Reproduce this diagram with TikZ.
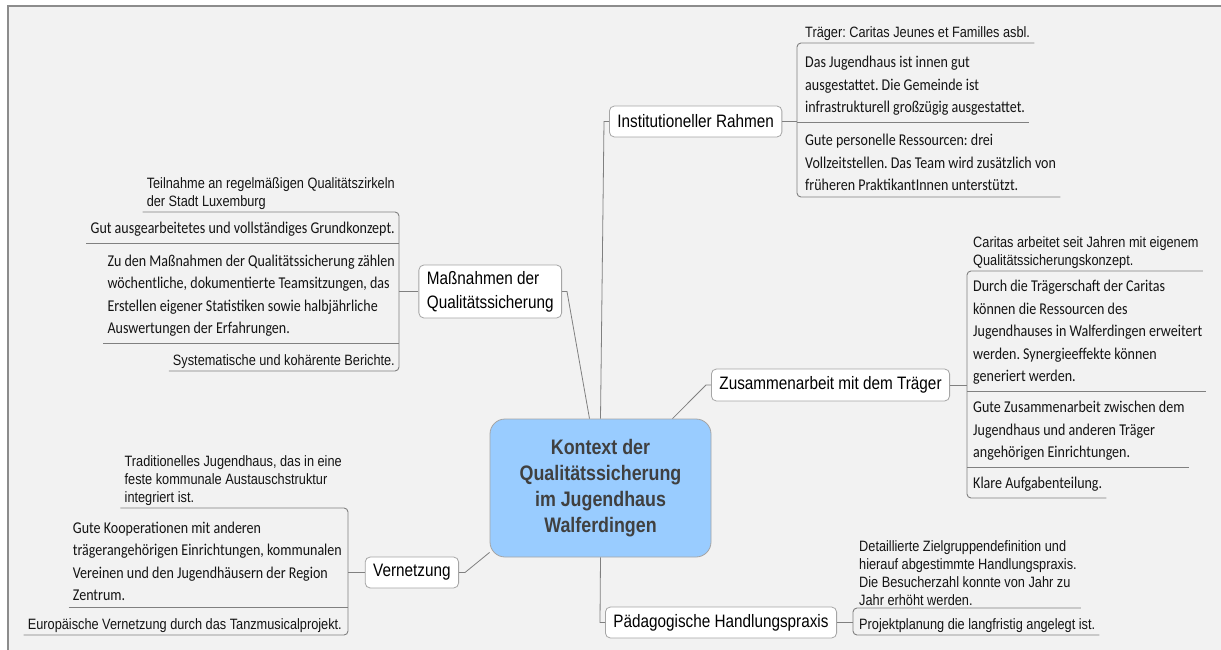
\documentclass[tikz,border=0pt]{standalone}
\usepackage{fontspec}
\newfontfamily\arialn[FakeStretch=0.85]{Liberation Sans}
\newfontfamily\calibn[FakeStretch=0.85]{Carlito}
\frenchspacing
\definecolor{bgGray}{RGB}{242, 242, 242}
\definecolor{frameCol}{RGB}{140, 140, 140}
\definecolor{lineCol}{RGB}{128, 128, 128}
\definecolor{boxLine}{RGB}{165, 165, 165}
\definecolor{ctxFill}{RGB}{153, 204, 255}
\definecolor{ctxText}{RGB}{64, 64, 64}
\definecolor{txtCol}{RGB}{20, 20, 20}

\begin{document}
\begin{tikzpicture}[
    x=1pt, y=-1pt,
    link/.style={lineCol, line width=0.8pt},
    bracket/.style={lineCol, line width=0.9pt, rounded corners=4pt},
    topic/.style={draw=boxLine, fill=white, line width=0.8pt, rounded corners=5pt,
        font=\arialn\fontsize{18}{24}\selectfont, text=black, align=left,
        inner xsep=8pt, inner ysep=4pt, minimum height=31pt},
    noteA/.style={font=\arialn\fontsize{15}{18}\selectfont, text=txtCol,
        align=left, inner xsep=4pt, inner ysep=2.5pt},
    noteC/.style={font=\calibn\fontsize{16.5}{22.5}\selectfont, text=txtCol,
        align=left, inner xsep=4pt, inner ysep=6pt}
]
    \useasboundingbox (0,0) rectangle (1221,650);

    % ================= Hintergrund und Rahmen =================
    \fill[white] (0,0) rectangle (1221,650);
    \fill[bgGray] (8,6) rectangle (1221,650);
    \draw[frameCol, line width=1.5pt] (8,650) -- (8,6) -- (1221,6);

    % ================= Zentrum =================
    \node[draw=boxLine, fill=ctxFill, line width=0.8pt, rounded corners=15pt,
          minimum width=221pt, minimum height=138pt, align=center, text=ctxText,
          font=\arialn\bfseries\fontsize{21}{26}\selectfont] (ctx) at (600.5,488)
        {Kontext der\\Qualitätssicherung\\im Jugendhaus\\Walferdingen};

    % ================= Hauptthemen =================
    \node[topic, anchor=west] (ir) at (609,121.5) {Institutioneller Rahmen};
    \node[topic, anchor=east, minimum height=53pt] (mq) at (562,291.5)
        {Maßnahmen der\\Qualitätssicherung};
    \node[topic, anchor=west, minimum height=32pt] (zt) at (711,385)
        {Zusammenarbeit mit dem Träger};
    \node[topic, anchor=east] (vn) at (459,572.5) {Vernetzung};
    \node[topic, anchor=west] (ph) at (605,622.5) {Pädagogische Handlungspraxis};

    \draw[link] (ctx.north) -- ([xshift=-5pt]ir.west) -- (ir.west);
    \draw[link] ([xshift=-11pt]ctx.north) -- ([xshift=5pt]mq.east) -- (mq.east);
    \draw[link] ([xshift=72pt]ctx.north) -- ([xshift=-5pt]zt.west) -- (zt.west);
    \draw[link] ([yshift=5pt]ctx.south west) -- ([xshift=6pt]vn.east) -- (vn.east);
    \draw[link] (ctx.south) -- ([xshift=-5pt]ph.west) -- (ph.west);

    % ================= Institutioneller Rahmen (Achse x = 797) =================
    \coordinate (irS) at (797,0);
    \node[noteA, anchor=south west] (ir1) at (801,43)
        {Träger: Caritas Jeunes et Familles asbl.};
    \node[noteC, anchor=south west] (ir2) at (801,122)
        {Das Jugendhaus ist innen gut\\ausgestattet. Die Gemeinde ist\\infrastrukturell großzügig ausgestattet.};
    \node[noteC, anchor=south west] (ir3) at (801,197)
        {Gute personelle Ressourcen: drei\\Vollzeitstellen. Das Team wird zusätzlich von\\früheren PraktikantInnen unterstützt.};
    \draw[bracket] (ir1.south east) -- (ir1.south -| irS) -- (ir3.south -| irS) -- (ir3.south east);
    \draw[bracket] (ir2.south -| irS) -- (ir2.south east);
    \draw[link] (ir.east) -- (ir.east -| irS);

    % ================= Maßnahmen der Qualitätssicherung (Achse x = 399) =================
    \coordinate (mqS) at (399,0);
    \node[noteA, anchor=south east] (mq1) at (399,212)
        {Teilnahme an regelmäßigen Qualitätszirkeln\\der Stadt Luxemburg};
    \node[noteC, anchor=south east] (mq2) at (399,243)
        {Gut ausgearbeitetes und vollständiges Grundkonzept.};
    \node[noteC, anchor=south east] (mq3) at (399,343)
        {Zu den Maßnahmen der Qualitätssicherung zählen\\wöchentliche, dokumentierte Teamsitzungen, das\\Erstellen eigener Statistiken sowie halbjährliche\\Auswertungen der Erfahrungen.};
    \node[noteA, anchor=south east] (mq4) at (399,371)
        {Systematische und kohärente Berichte.};
    \draw[bracket] (mq1.south west) -- (mq1.south -| mqS) -- (mq4.south -| mqS) -- (mq4.south west);
    \draw[bracket] (mq2.south west) -- (mq2.south -| mqS);
    \draw[bracket] (mq3.south west) -- (mq3.south -| mqS);
    \draw[link] (mq.west) -- (mq.west -| mqS);

    % ================= Zusammenarbeit mit dem Träger (Achse x = 967) =================
    \coordinate (ztS) at (967,0);
    \node[noteA, anchor=south west] (zt1) at (969,271)
        {Caritas arbeitet seit Jahren mit eigenem\\Qualitätssicherungskonzept.};
    \node[noteC, anchor=south west] (zt2) at (969,391)
        {Durch die Trägerschaft der Caritas\\können die Ressourcen des\\Jugendhauses in Walferdingen erweitert\\werden. Synergieeffekte können\\generiert werden.};
    \node[noteC, anchor=south west] (zt3) at (969,467)
        {Gute Zusammenarbeit zwischen dem\\Jugendhaus und anderen Träger\\angehörigen Einrichtungen.};
    \node[noteC, anchor=south west] (zt4) at (969,498)
        {Klare Aufgabenteilung.};
    \draw[bracket] (zt1.south east) -- (zt1.south -| ztS) -- (zt4.south -| ztS) -- (zt4.south east);
    \draw[bracket] (zt2.south -| ztS) -- (zt2.south east);
    \draw[bracket] (zt3.south -| ztS) -- (zt3.south east);
    \draw[link] (zt.east) -- (zt.east -| ztS);

    % ================= Vernetzung (Achse x = 348) =================
    \coordinate (vnS) at (348,0);
    \node[noteA, anchor=south east] (vn1) at (346,508)
        {Traditionelles Jugendhaus, das in eine\\feste kommunale Austauschstruktur\\integriert ist.};
    \node[noteC, anchor=south east] (vn2) at (346,607)
        {Gute Kooperationen mit anderen\\trägerangehörigen Einrichtungen, kommunalen\\Vereinen und den Jugendhäusern der Region\\Zentrum.};
    \node[noteA, anchor=south east] (vn3) at (346,635)
        {Europäische Vernetzung durch das Tanzmusicalprojekt.};
    \draw[bracket] (vn1.south west) -- (vn1.south -| vnS) -- (vn3.south -| vnS) -- (vn3.south west);
    \draw[bracket] (vn2.south west) -- (vn2.south -| vnS);
    \draw[link] (vn.west) -- (vn.west -| vnS);

    % ================= Pädagogische Handlungspraxis (Achse x = 853) =================
    \coordinate (phS) at (853,0);
    \node[noteA, anchor=south west] (ph1) at (855,608)
        {Detaillierte Zielgruppendefinition und\\hierauf abgestimmte Handlungspraxis.\\Die Besucherzahl konnte von Jahr zu\\Jahr erhöht werden.};
    \node[noteA, anchor=south west] (ph2) at (855,635)
        {Projektplanung die langfristig angelegt ist.};
    \draw[bracket] (ph1.south east) -- (ph1.south -| phS) -- (ph2.south -| phS) -- (ph2.south east);
    \draw[link] (ph.east) -- (ph.east -| phS);

\end{tikzpicture}
\end{document}
